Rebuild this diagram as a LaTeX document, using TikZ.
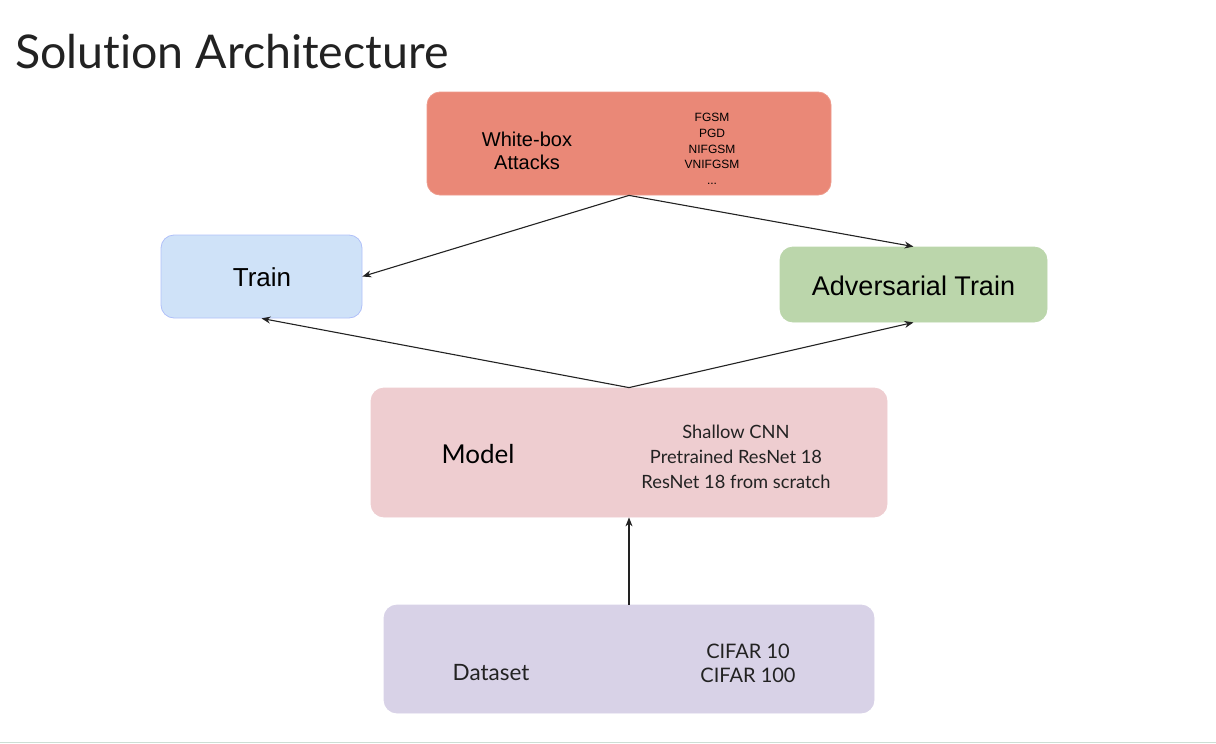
\documentclass[tikz,border=0pt]{standalone}
\usepackage{fontspec}
\setmainfont{Lato}[Ligatures=NoCommon]
\newfontfamily\arialfont{Liberation Sans}
\usetikzlibrary{arrows.meta}

\definecolor{attackred}{RGB}{234,136,119}
\definecolor{trainblue}{RGB}{207,226,248}
\definecolor{advgreen}{RGB}{187,214,171}
\definecolor{modelpink}{RGB}{238,205,208}
\definecolor{datalilac}{RGB}{216,210,231}
\definecolor{textgray}{RGB}{34,34,34}

\tikzset{
	box/.style={rounded corners=13pt, line width=0.8pt},
	flow/.style={-{Stealth[length=9pt,width=7pt]}, line width=1.1pt, draw=textgray},
	fsize/.style 2 args={font=\fontsize{#1}{#2}\selectfont}
}

\begin{document}
\begin{tikzpicture}[x=1pt,y=-1pt]
	\useasboundingbox (0,0) rectangle (1216,744);
	\node[anchor=base west, inner sep=0, text=textgray, fsize={46.5}{54}] (title) at (15,68) {Solution Architecture};
	% boxes
	\node[box, fill=attackred, draw=attackred!85!white, minimum width=404pt, minimum height=103pt] (att) at (629,143.5) {};
	\node[box, fill=trainblue, draw=trainblue!85!blue, minimum width=201pt, minimum height=83pt] (train) at (261.5,276.5) {};
	\node[box, fill=advgreen, draw=advgreen, minimum width=267pt, minimum height=75pt] (adv) at (913.5,284.5) {};
	\node[box, fill=modelpink, draw=modelpink, minimum width=516pt, minimum height=129pt] (model) at (629,452.5) {};
	\node[box, fill=datalilac, draw=datalilac, minimum width=490pt, minimum height=108pt] (data) at (629,659) {};
	% texts
	\node[align=center, font=\arialfont\fontsize{20}{23}\selectfont] (attname) at (527,151) {White-box\\Attacks};
	\node[align=center, font=\arialfont\fontsize{12}{15.6}\selectfont] (attlist) at (712,149) {FGSM\\PGD\\NIFGSM\\VNIFGSM\\...};
	\node[font=\arialfont\fontsize{26}{30}\selectfont] (trainname) at (262,277) {Train};
	\node[font=\arialfont\fontsize{27}{30}\selectfont] (advname) at (913.5,286) {Adversarial Train};
	\node[fsize={26}{30}] (modelname) at (478,454) {Model};
	\node[align=center, fsize={18.3}{21}, text=textgray] (modellist) at (736,457) {Shallow CNN\\[4pt]Pretrained ResNet 18\\[4pt]ResNet 18 from scratch};
	\node[fsize={22.5}{26}, text=textgray] (dataname) at (491,673) {Dataset};
	\node[align=center, fsize={20}{24}, text=textgray] (datalist) at (748,663) {CIFAR 10\\CIFAR 100};
	% connectors
	\draw[flow] (att.south) -- (train.east);
	\draw[flow] (att.south) -- (adv.north);
	\draw[flow] (model.north) -- (train.south);
	\draw[flow] (model.north) -- (adv.south);
	\draw[flow] (data.north) -- (model.south);
	\coordinate (rulel) at (0,742.5);
	\coordinate (ruler) at (1216,742.5);
	\draw[line width=1pt, draw={rgb,255:red,205;green,222;blue,212}] (rulel) -- (ruler);
\end{tikzpicture}
\end{document}
